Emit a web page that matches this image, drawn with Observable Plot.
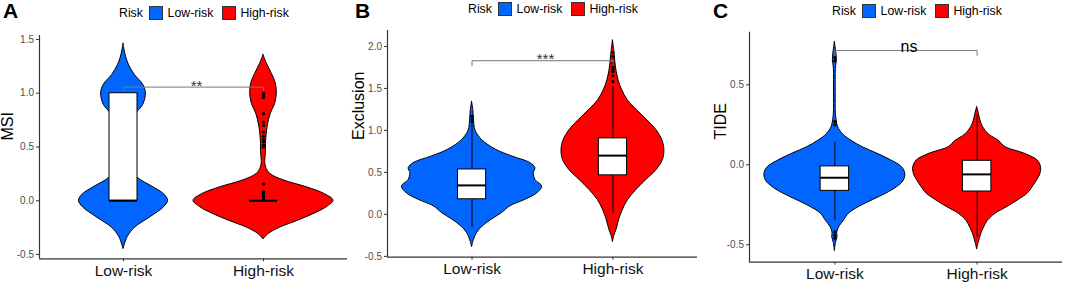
<!DOCTYPE html>
<html><head><meta charset="utf-8">
<script src="https://cdn.jsdelivr.net/npm/d3@7"></script>
<script src="https://cdn.jsdelivr.net/npm/@observablehq/plot@0.6"></script>
<style>
body{margin:0;background:#fff;font-family:"Liberation Sans",Arial,sans-serif;}
#root{position:relative;width:1065px;height:282px;overflow:hidden;background:#fff;}
.panel{position:absolute;top:0;height:282px;}
.legendrow{position:relative;height:26px;}
.legend{position:absolute;display:flex;align-items:center;height:14px;font-size:12.3px;line-height:14px;color:#000;white-space:nowrap;}
.sw{width:14px;height:14px;box-sizing:border-box;border:1px solid #333;}
.tag{position:absolute;top:0;font-weight:bold;font-size:21px;line-height:21px;color:#000;}
</style></head><body><div id="root"></div>
<script>
// ---------- data ----------
const groups = ["Low-risk", "High-risk"];
const riskColors = ["#0066FF", "#FF0000"];
const legendTitle = "Risk";

// Panel A: MSI — violin outline (value, half-width in category units)
const msiLowY  = [1.46, 1.40, 1.33, 1.26, 1.17, 1.08, 1.0, 0.89, 0.82, 0.76, 0.66, 0.5, 0.35, 0.22, 0.125, 0.06, 0.0, -0.06, -0.155, -0.25, -0.34, -0.45];
const msiLowW  = [0, 0.008, 0.02, 0.04, 0.081, 0.14, 0.16, 0.14, 0.095, 0.06, 0.015, 0.007, 0.025, 0.095, 0.214, 0.29, 0.318, 0.29, 0.19, 0.083, 0.029, 0];
const msiHighY = [1.355, 1.275, 1.18, 1.09, 1.0, 0.9, 0.81, 0.685, 0.56, 0.435, 0.37, 0.31, 0.25, 0.19, 0.125, 0.06, 0.0, -0.06, -0.125, -0.19, -0.25, -0.31, -0.36];
const msiHighW = [0, 0.024, 0.06, 0.088, 0.095, 0.083, 0.052, 0.029, 0.019, 0.017, 0.012, 0.019, 0.048, 0.143, 0.31, 0.44, 0.5, 0.452, 0.357, 0.238, 0.119, 0.036, 0];
const msiQ1 = [0, 0], msiMedian = [0, 0], msiQ3 = [1.0, 0], msiWhiskerLo = [0, 0], msiWhiskerHi = [1.0, 0];
const msiOutliersLow = [];
const msiOutliersHigh = [1.0, 0.98, 0.96, 0.81, 0.73, 0.70, 0.64, 0.60, 0.57, 0.55, 0.52, 0.50, 0.155, 0.085, 0.07, 0.055, 0.04, 0.025, 0.01];
const msiTicks = [-0.5, 0, 0.5, 1.0, 1.5];
const msiBracket = 1.057, msiSig = "**";

// Panel B: Exclusion
const excLowY  = [1.34, 1.24, 1.12, 1.0, 0.885, 0.77, 0.69, 0.61, 0.55, 0.49, 0.41, 0.33, 0.25, 0.17, 0.095, 0.016, -0.06, -0.14, -0.22, -0.3, -0.39];
const excLowW  = [0, 0.009, 0.014, 0.024, 0.071, 0.17, 0.285, 0.415, 0.45, 0.438, 0.45, 0.498, 0.462, 0.374, 0.27, 0.213, 0.142, 0.078, 0.036, 0.014, 0];
const excHighY = [2.07, 1.95, 1.83, 1.71, 1.595, 1.48, 1.36, 1.24, 1.12, 1.0, 0.885, 0.77, 0.65, 0.53, 0.41, 0.29, 0.17, 0.055, -0.06, -0.18, -0.26, -0.33];
const excHighW = [0, 0.009, 0.016, 0.025, 0.04, 0.065, 0.105, 0.171, 0.245, 0.31, 0.35, 0.365, 0.355, 0.31, 0.237, 0.166, 0.107, 0.071, 0.045, 0.026, 0.009, 0];
const excQ1 = [0.18, 0.465], excMedian = [0.345, 0.70], excQ3 = [0.535, 0.905], excWhiskerLo = [-0.155, 0.0], excWhiskerHi = [1.07, 1.52];
const excOutliersLow = [1.10, 1.13, 1.17];
const excOutliersHigh = [1.58, 1.65, 1.70, 1.72, 1.74, 1.76, 1.80, 1.88, 1.93];
const excTicks = [-0.5, 0, 0.5, 1.0, 1.5, 2.0];
const excBracket = 1.83, excSig = "***";

// Panel C: TIDE
const tideLowY  = [0.767, 0.72, 0.66, 0.6, 0.45, 0.32, 0.27, 0.235, 0.19, 0.15, 0.11, 0.07, 0.027, -0.015, -0.056, -0.1, -0.14, -0.18, -0.22, -0.265, -0.306, -0.35, -0.39, -0.43, -0.45, -0.49, -0.54];
const tideLowW  = [0, 0.007, 0.014, 0.007, 0.006, 0.007, 0.014, 0.023, 0.058, 0.117, 0.195, 0.297, 0.397, 0.472, 0.495, 0.484, 0.437, 0.362, 0.269, 0.168, 0.098, 0.063, 0.03, 0.016, 0.019, 0.007, 0];
const tideHighY = [0.36, 0.32, 0.277, 0.235, 0.19, 0.15, 0.11, 0.07, 0.027, -0.015, -0.056, -0.1, -0.14, -0.18, -0.22, -0.265, -0.306, -0.35, -0.39, -0.43, -0.49, -0.53];
const tideHighW = [0, 0.012, 0.023, 0.042, 0.082, 0.152, 0.2, 0.332, 0.425, 0.449, 0.445, 0.42, 0.39, 0.355, 0.292, 0.21, 0.129, 0.075, 0.05, 0.03, 0.01, 0];
const tideQ1 = [-0.163, -0.167], tideMedian = [-0.081, -0.06], tideQ3 = [-0.01, 0.025], tideWhiskerLo = [-0.35, -0.455], tideWhiskerHi = [0.14, 0.31];
const tideOutliersLow = [0.25, 0.27, 0.65, 0.67, -0.42, -0.44, -0.46];
const tideOutliersHigh = [];
const tideTicks = [-0.5, 0, 0.5];
const tideBracket = 0.715, tideSig = "ns";

// ---------- layout ----------
const xDomain = [0.4, 2.6];
const boxHalf = 0.1;
const panels = [
  {tag: "A", tagX: 3, title: "MSI", left: 0, width: 348, mL: 39, mR: 1, mT: 9, mB: 23.7, yDomain: [-0.54, 1.537], ticks: msiTicks,
   vY: [msiLowY, msiHighY], vW: [msiLowW, msiHighW], q1: msiQ1, med: msiMedian, q3: msiQ3, lo: msiWhiskerLo, hi: msiWhiskerHi,
   out: [msiOutliersLow, msiOutliersHigh], bracket: msiBracket, tip: 0.031, sig: msiSig, sigSize: 15, sigDy: -1, sigColor: "#333",
   titleDx: -31.4, titleDy: -6.65, legendLeft: 119, legendTop: 6.3},
  {tag: "B", tagX: 7, title: "Exclusion", left: 348, width: 357, mL: 39, mR: 8, mT: 4, mB: 25.3, yDomain: [-0.51, 2.19], ticks: excTicks,
   vY: [excLowY, excHighY], vW: [excLowW, excHighW], q1: excQ1, med: excMedian, q3: excQ3, lo: excWhiskerLo, hi: excWhiskerHi,
   out: [excOutliersLow, excOutliersHigh], bracket: excBracket, tip: 0.059, sig: excSig, sigSize: 15, sigDy: -1.5, sigColor: "#333",
   titleDx: -29, titleDy: -3.85, legendLeft: 120, legendTop: 2.3},
  {tag: "C", tagX: 8, title: "TIDE", left: 705, width: 360, mL: 44, mR: 3, mT: 5.7, mB: 20.3, yDomain: [-0.609, 0.829], ticks: tideTicks,
   vY: [tideLowY, tideHighY], vW: [tideLowW, tideHighW], q1: tideQ1, med: tideMedian, q3: tideQ3, lo: tideWhiskerLo, hi: tideWhiskerHi,
   out: [tideOutliersLow, tideOutliersHigh], bracket: tideBracket, tip: 0.031, sig: tideSig, sigSize: 16, sigDy: -3.4, sigColor: "#000",
   titleDx: -29, titleDy: -7.7, legendLeft: 127, legendTop: 3.5}
];

const root = document.getElementById("root");
const FONT = '"Liberation Sans", Arial, sans-serif';

for (const p of panels) {
  const div = document.createElement("div");
  div.className = "panel";
  div.style.left = p.left + "px";
  div.style.width = p.width + "px";

  // legend row
  const row = document.createElement("div");
  row.className = "legendrow";
  const lg = document.createElement("div");
  lg.className = "legend";
  lg.style.left = p.legendLeft + "px";
  lg.style.top = p.legendTop + "px";
  const t = document.createElement("span");
  t.textContent = legendTitle;
  t.style.marginRight = "5.7px";
  lg.appendChild(t);
  groups.forEach((g, i) => {
    const sw = document.createElement("span");
    sw.className = "sw";
    sw.style.background = riskColors[i];
    sw.style.marginRight = (i === 0 ? 5 : 4) + "px";
    lg.appendChild(sw);
    const lab = document.createElement("span");
    lab.textContent = g;
    if (i === 0) lab.style.marginRight = "9px";
    lg.appendChild(lab);
  });
  row.appendChild(lg);
  div.appendChild(row);

  // data rows
  const violinMarks = groups.map((g, i) => {
    const rows = p.vY[i].map((v, k) => ({v, w: p.vW[i][k], pos: i + 1}));
    return Plot.areaX(rows, {y: "v", x1: d => d.pos - d.w, x2: d => d.pos + d.w, fill: riskColors[i], stroke: "black", strokeWidth: 1, curve: "catmull-rom"});
  });
  const boxes = groups.map((g, i) => ({pos: i + 1, q1: p.q1[i], med: p.med[i], q3: p.q3[i], lo: p.lo[i], hi: p.hi[i]}));
  const outliers = groups.flatMap((g, i) => p.out[i].map(v => ({pos: i + 1, v})));
  const bracketPts = [
    {x: 1, y: p.bracket - p.tip}, {x: 1, y: p.bracket}, {x: 2, y: p.bracket}, {x: 2, y: p.bracket - p.tip}
  ];

  const svg = Plot.plot({
    width: p.width, height: 256,
    marginLeft: p.mL, marginRight: p.mR, marginTop: p.mT, marginBottom: p.mB,
    x: {domain: xDomain, axis: null},
    y: {domain: p.yDomain, axis: null, label: null},
    style: {fontFamily: FONT, background: "transparent", overflow: "visible", color: "#000"},
    marks: [
      ...violinMarks,
      Plot.ruleX(boxes, {x: "pos", y1: "lo", y2: "q1", stroke: "black", strokeWidth: 1}),
      Plot.ruleX(boxes, {x: "pos", y1: "q3", y2: "hi", stroke: "black", strokeWidth: 1}),
      Plot.rect(boxes, {x1: d => d.pos - boxHalf, x2: d => d.pos + boxHalf, y1: "q1", y2: "q3", fill: "white", stroke: "black", strokeWidth: 1}),
      Plot.ruleY(boxes, {y: "med", x1: d => d.pos - boxHalf, x2: d => d.pos + boxHalf, stroke: "black", strokeWidth: 2}),
      Plot.dot(outliers, {x: "pos", y: "v", r: 1.6, fill: "black", stroke: null}),
      Plot.line(bracketPts, {x: "x", y: "y", stroke: "#777", strokeWidth: 1}),
      Plot.text([{x: 1.5, y: p.bracket, s: p.sig}], {x: "x", y: "y", text: "s", dx: 3, dy: p.sigDy, fontSize: p.sigSize, fill: p.sigColor}),
      Plot.ruleX([xDomain[0]], {stroke: "#333", strokeWidth: 1.2}),
      Plot.ruleY([p.yDomain[0]], {stroke: "#333", strokeWidth: 1.2}),
      Plot.axisY({ticks: p.ticks, tickSize: 3, tickPadding: 2.5, tickFormat: d => d.toFixed(1), fontSize: 10, fill: "#4d4d4d", stroke: "#333", label: null}),
      Plot.axisX({ticks: [1, 2], tickSize: 3, tickPadding: 3, tickFormat: d => groups[d - 1], fontSize: 15.5, fill: "#111", stroke: "#333", label: null}),
      Plot.text([p.title], {text: d => d, frameAnchor: "left", rotate: -90, dx: p.titleDx, dy: p.titleDy, fontSize: 16, fill: "#000"})
    ]
  });
  div.appendChild(svg);

  const tag = document.createElement("div");
  tag.className = "tag";
  tag.style.left = p.tagX + "px";
  tag.textContent = p.tag;
  div.appendChild(tag);

  root.appendChild(div);
}
</script></body></html>
